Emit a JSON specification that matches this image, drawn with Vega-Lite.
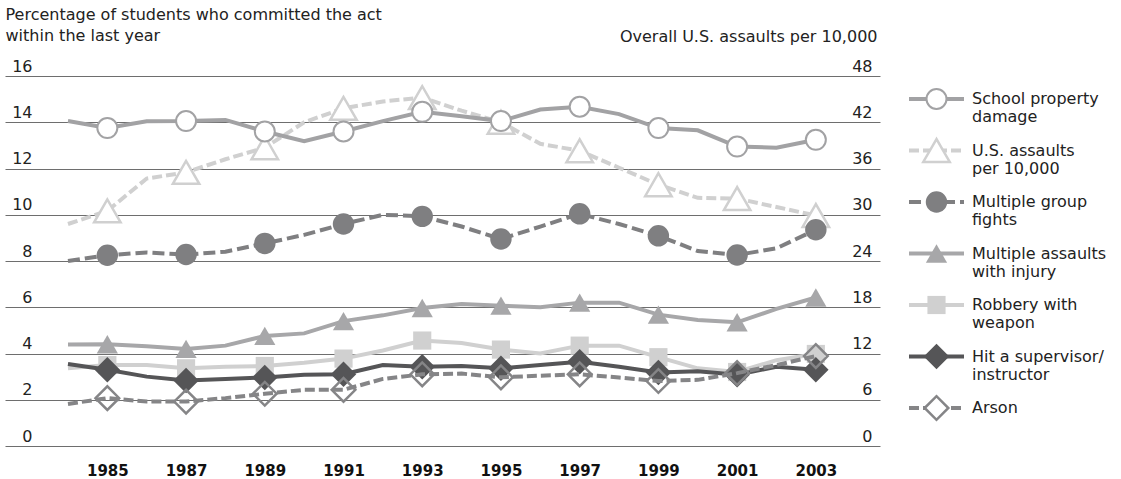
{
"$schema": "https://vega.github.io/schema/vega-lite/v6.json",
"autosize": {"type": "pad"},
"padding": {"left": 5, "top": 6, "right": 0, "bottom": 0},
"spacing": 0,
"bounds": "flush",
"config": {"view": {"stroke": null}, "font": "DejaVu Sans", "point": {"opacity": 1}},
"datasets": {
"rates": [
{"series":"School property damage","year":1984,"value":14.05},{"series":"School property damage","year":1985,"value":13.75},{"series":"School property damage","year":1986,"value":14.04},{"series":"School property damage","year":1987,"value":14.05},{"series":"School property damage","year":1988,"value":14.1},{"series":"School property damage","year":1989,"value":13.6},{"series":"School property damage","year":1990,"value":13.18},{"series":"School property damage","year":1991,"value":13.6},{"series":"School property damage","year":1992,"value":14.05},{"series":"School property damage","year":1993,"value":14.45},{"series":"School property damage","year":1994,"value":14.26},{"series":"School property damage","year":1995,"value":14.05},{"series":"School property damage","year":1996,"value":14.55},{"series":"School property damage","year":1997,"value":14.67},{"series":"School property damage","year":1998,"value":14.35},{"series":"School property damage","year":1999,"value":13.75},{"series":"School property damage","year":2000,"value":13.65},{"series":"School property damage","year":2001,"value":12.95},{"series":"School property damage","year":2002,"value":12.9},{"series":"School property damage","year":2003,"value":13.24},
{"series":"U.S. assaults per 10,000","year":1984,"value":28.8},{"series":"U.S. assaults per 10,000","year":1985,"value":30.5},{"series":"U.S. assaults per 10,000","year":1986,"value":34.7},{"series":"U.S. assaults per 10,000","year":1987,"value":35.5},{"series":"U.S. assaults per 10,000","year":1988,"value":37.2},{"series":"U.S. assaults per 10,000","year":1989,"value":38.7},{"series":"U.S. assaults per 10,000","year":1990,"value":42.0},{"series":"U.S. assaults per 10,000","year":1991,"value":43.8},{"series":"U.S. assaults per 10,000","year":1992,"value":44.7},{"series":"U.S. assaults per 10,000","year":1993,"value":45.2},{"series":"U.S. assaults per 10,000","year":1994,"value":43.5},{"series":"U.S. assaults per 10,000","year":1995,"value":42.0},{"series":"U.S. assaults per 10,000","year":1996,"value":39.2},{"series":"U.S. assaults per 10,000","year":1997,"value":38.3},{"series":"U.S. assaults per 10,000","year":1998,"value":36.1},{"series":"U.S. assaults per 10,000","year":1999,"value":33.9},{"series":"U.S. assaults per 10,000","year":2000,"value":32.2},{"series":"U.S. assaults per 10,000","year":2001,"value":32.1},{"series":"U.S. assaults per 10,000","year":2002,"value":31.0},{"series":"U.S. assaults per 10,000","year":2003,"value":29.9},
{"series":"Multiple group fights","year":1984,"value":8.0},{"series":"Multiple group fights","year":1985,"value":8.25},{"series":"Multiple group fights","year":1986,"value":8.37},{"series":"Multiple group fights","year":1987,"value":8.28},{"series":"Multiple group fights","year":1988,"value":8.4},{"series":"Multiple group fights","year":1989,"value":8.76},{"series":"Multiple group fights","year":1990,"value":9.13},{"series":"Multiple group fights","year":1991,"value":9.6},{"series":"Multiple group fights","year":1992,"value":10.0},{"series":"Multiple group fights","year":1993,"value":9.93},{"series":"Multiple group fights","year":1994,"value":9.49},{"series":"Multiple group fights","year":1995,"value":8.95},{"series":"Multiple group fights","year":1996,"value":9.49},{"series":"Multiple group fights","year":1997,"value":10.04},{"series":"Multiple group fights","year":1998,"value":9.6},{"series":"Multiple group fights","year":1999,"value":9.09},{"series":"Multiple group fights","year":2000,"value":8.43},{"series":"Multiple group fights","year":2001,"value":8.26},{"series":"Multiple group fights","year":2002,"value":8.55},{"series":"Multiple group fights","year":2003,"value":9.35},
{"series":"Multiple assaults with injury","year":1984,"value":4.39},{"series":"Multiple assaults with injury","year":1985,"value":4.4},{"series":"Multiple assaults with injury","year":1986,"value":4.31},{"series":"Multiple assaults with injury","year":1987,"value":4.2},{"series":"Multiple assaults with injury","year":1988,"value":4.34},{"series":"Multiple assaults with injury","year":1989,"value":4.76},{"series":"Multiple assaults with injury","year":1990,"value":4.87},{"series":"Multiple assaults with injury","year":1991,"value":5.4},{"series":"Multiple assaults with injury","year":1992,"value":5.65},{"series":"Multiple assaults with injury","year":1993,"value":5.97},{"series":"Multiple assaults with injury","year":1994,"value":6.14},{"series":"Multiple assaults with injury","year":1995,"value":6.07},{"series":"Multiple assaults with injury","year":1996,"value":6.0},{"series":"Multiple assaults with injury","year":1997,"value":6.2},{"series":"Multiple assaults with injury","year":1998,"value":6.2},{"series":"Multiple assaults with injury","year":1999,"value":5.68},{"series":"Multiple assaults with injury","year":2000,"value":5.45},{"series":"Multiple assaults with injury","year":2001,"value":5.35},{"series":"Multiple assaults with injury","year":2002,"value":5.93},{"series":"Multiple assaults with injury","year":2003,"value":6.42},
{"series":"Robbery with weapon","year":1984,"value":3.36},{"series":"Robbery with weapon","year":1985,"value":3.5},{"series":"Robbery with weapon","year":1986,"value":3.5},{"series":"Robbery with weapon","year":1987,"value":3.36},{"series":"Robbery with weapon","year":1988,"value":3.43},{"series":"Robbery with weapon","year":1989,"value":3.46},{"series":"Robbery with weapon","year":1990,"value":3.6},{"series":"Robbery with weapon","year":1991,"value":3.78},{"series":"Robbery with weapon","year":1992,"value":4.13},{"series":"Robbery with weapon","year":1993,"value":4.56},{"series":"Robbery with weapon","year":1994,"value":4.45},{"series":"Robbery with weapon","year":1995,"value":4.17},{"series":"Robbery with weapon","year":1996,"value":4.0},{"series":"Robbery with weapon","year":1997,"value":4.34},{"series":"Robbery with weapon","year":1998,"value":4.34},{"series":"Robbery with weapon","year":1999,"value":3.84},{"series":"Robbery with weapon","year":2000,"value":3.36},{"series":"Robbery with weapon","year":2001,"value":3.2},{"series":"Robbery with weapon","year":2002,"value":3.71},{"series":"Robbery with weapon","year":2003,"value":3.98},
{"series":"Hit a supervisor/instructor","year":1984,"value":3.55},{"series":"Hit a supervisor/instructor","year":1985,"value":3.3},{"series":"Hit a supervisor/instructor","year":1986,"value":3.0},{"series":"Hit a supervisor/instructor","year":1987,"value":2.83},{"series":"Hit a supervisor/instructor","year":1988,"value":2.9},{"series":"Hit a supervisor/instructor","year":1989,"value":2.96},{"series":"Hit a supervisor/instructor","year":1990,"value":3.08},{"series":"Hit a supervisor/instructor","year":1991,"value":3.1},{"series":"Hit a supervisor/instructor","year":1992,"value":3.5},{"series":"Hit a supervisor/instructor","year":1993,"value":3.43},{"series":"Hit a supervisor/instructor","year":1994,"value":3.46},{"series":"Hit a supervisor/instructor","year":1995,"value":3.36},{"series":"Hit a supervisor/instructor","year":1996,"value":3.5},{"series":"Hit a supervisor/instructor","year":1997,"value":3.64},{"series":"Hit a supervisor/instructor","year":1998,"value":3.43},{"series":"Hit a supervisor/instructor","year":1999,"value":3.18},{"series":"Hit a supervisor/instructor","year":2000,"value":3.23},{"series":"Hit a supervisor/instructor","year":2001,"value":3.08},{"series":"Hit a supervisor/instructor","year":2002,"value":3.43},{"series":"Hit a supervisor/instructor","year":2003,"value":3.3},
{"series":"Arson","year":1984,"value":1.82},{"series":"Arson","year":1985,"value":2.07},{"series":"Arson","year":1986,"value":1.92},{"series":"Arson","year":1987,"value":1.92},{"series":"Arson","year":1988,"value":2.07},{"series":"Arson","year":1989,"value":2.26},{"series":"Arson","year":1990,"value":2.43},{"series":"Arson","year":1991,"value":2.43},{"series":"Arson","year":1992,"value":2.9},{"series":"Arson","year":1993,"value":3.1},{"series":"Arson","year":1994,"value":3.13},{"series":"Arson","year":1995,"value":2.97},{"series":"Arson","year":1996,"value":3.04},{"series":"Arson","year":1997,"value":3.1},{"series":"Arson","year":1998,"value":2.96},{"series":"Arson","year":1999,"value":2.81},{"series":"Arson","year":2000,"value":2.86},{"series":"Arson","year":2001,"value":3.15},{"series":"Arson","year":2002,"value":3.5},{"series":"Arson","year":2003,"value":3.89}
],
"legend": [
{"series":"School property damage","label":"School property\ndamage"},
{"series":"U.S. assaults per 10,000","label":"U.S. assaults\nper 10,000"},
{"series":"Multiple group fights","label":"Multiple group\nfights"},
{"series":"Multiple assaults with injury","label":"Multiple assaults\nwith injury"},
{"series":"Robbery with weapon","label":"Robbery with\nweapon"},
{"series":"Hit a supervisor/instructor","label":"Hit a supervisor/\ninstructor"},
{"series":"Arson","label":"Arson"}
]
},
"hconcat": [
{
"width": 875, "height": 370,
"data": {"name": "rates"},
"encoding": {"x": {"field": "year", "type": "quantitative", "scale": {"domain": [1982.4, 2004.63], "nice": false, "zero": false},
  "axis": {"values": [1985,1987,1989,1991,1993,1995,1997,1999,2001,2003], "format": "d", "title": null, "domain": false, "ticks": false, "grid": false, "labelFont": "DejaVu Sans", "labelFontWeight": "bold", "labelFontSize": 15, "labelPadding": 17, "labelColor": "#111", "labelFlush": false, "labelOverlap": false}}},
"layer": [
{
"encoding": {"y": {"field": "value", "type": "quantitative", "scale": {"domain": [0, 48], "nice": false},
  "axis": {"orient": "right", "values": [0,6,12,18,24,30,36,42,48], "grid": false, "domain": false, "ticks": false, "labelAlign": "right", "labelBaseline": "alphabetic", "labelPadding": -8, "labelOffset": -5, "labelFontSize": 16, "labelColor": "#222", "labelFlush": false, "labelOverlap": false,
  "title": "Overall U.S. assaults per 10,000", "titleAngle": 0, "titleAlign": "right", "titleBaseline": "alphabetic", "titleX": -3, "titleY": -35, "titleFontSize": 16, "titleFontWeight": "normal", "titleColor": "#222"}}},
"layer": [
 {"transform": [{"filter": "datum.series == 'U.S. assaults per 10,000'"}], "mark": {"type": "line", "stroke": "#d0d0d0", "strokeWidth": 4, "strokeDash": [10, 4]}},
 {"transform": [{"filter": "datum.series == 'U.S. assaults per 10,000' && datum.year % 2 == 1"}], "mark": {"type": "point", "shape": "triangle-up", "size": 700, "filled": true, "fill": "white", "stroke": "#d0d0d0", "strokeWidth": 2.5}}
]
},
{
"encoding": {"y": {"field": "value", "type": "quantitative", "scale": {"domain": [0, 16], "nice": false},
  "axis": {"orient": "left", "values": [0,2,4,6,8,10,12,14,16], "grid": true, "gridColor": "#6e6e6e", "gridWidth": 1, "domain": false, "ticks": false, "labelAlign": "right", "labelBaseline": "alphabetic", "labelPadding": -27, "labelOffset": -5, "labelFontSize": 16, "labelColor": "#222", "labelFlush": false, "labelOverlap": false,
  "title": ["Percentage of students who committed the act", "within the last year"], "titleAngle": 0, "titleAlign": "left", "titleBaseline": "alphabetic", "titleX": 0, "titleY": -56.5, "titleLineHeight": 21, "titleFontSize": 16, "titleFontWeight": "normal", "titleColor": "#222"}}},
"layer": [
 {"transform": [{"filter": "datum.series == 'School property damage'"}], "mark": {"type": "line", "stroke": "#a2a2a4", "strokeWidth": 4}},
 {"transform": [{"filter": "datum.series == 'School property damage' && datum.year % 2 == 1"}], "mark": {"type": "point", "shape": "circle", "size": 400, "filled": true, "fill": "white", "stroke": "#a2a2a4", "strokeWidth": 2}},
 {"transform": [{"filter": "datum.series == 'Multiple group fights'"}], "mark": {"type": "line", "stroke": "#7f7f81", "strokeWidth": 4, "strokeDash": [12, 5]}},
 {"transform": [{"filter": "datum.series == 'Multiple group fights' && datum.year % 2 == 1"}], "mark": {"type": "point", "shape": "circle", "size": 460, "filled": true, "fill": "#7f7f81", "strokeWidth": 0}},
 {"transform": [{"filter": "datum.series == 'Multiple assaults with injury'"}], "mark": {"type": "line", "stroke": "#a7a7a9", "strokeWidth": 4}},
 {"transform": [{"filter": "datum.series == 'Multiple assaults with injury' && datum.year % 2 == 1"}], "mark": {"type": "point", "shape": "triangle-up", "size": 450, "filled": true, "fill": "#a7a7a9", "strokeWidth": 0}},
 {"transform": [{"filter": "datum.series == 'Robbery with weapon'"}], "mark": {"type": "line", "stroke": "#d0d0d0", "strokeWidth": 4}},
 {"transform": [{"filter": "datum.series == 'Robbery with weapon' && datum.year % 2 == 1"}], "mark": {"type": "point", "shape": "square", "size": 330, "filled": true, "fill": "#d0d0d0", "strokeWidth": 0}},
 {"transform": [{"filter": "datum.series == 'Hit a supervisor/instructor'"}], "mark": {"type": "line", "stroke": "#555557", "strokeWidth": 4}},
 {"transform": [{"filter": "datum.series == 'Hit a supervisor/instructor' && datum.year % 2 == 1"}], "mark": {"type": "point", "shape": "diamond", "size": 650, "filled": true, "fill": "#555557", "strokeWidth": 0}},
 {"transform": [{"filter": "datum.series == 'Arson'"}], "mark": {"type": "line", "stroke": "#858587", "strokeWidth": 4, "strokeDash": [10, 4]}},
 {"transform": [{"filter": "datum.series == 'Arson' && datum.year % 2 == 1"}], "mark": {"type": "point", "shape": "diamond", "size": 560, "filled": false, "stroke": "#858587", "strokeWidth": 2.5}}
]
}
],
"resolve": {"scale": {"y": "independent"}}
},
{
"width": 241, "height": 370,
"data": {"name": "legend"},
"encoding": {
 "y": {"field": "series", "type": "nominal", "scale": {"type": "point", "padding": 0, "domain": ["School property damage","U.S. assaults per 10,000","Multiple group fights","Multiple assaults with injury","Robbery with weapon","Hit a supervisor/instructor","Arson"], "range": [23, 332]}, "axis": null}
},
"layer": [
 {"transform": [{"filter": "datum.series == 'School property damage'"}], "mark": {"type": "rule", "stroke": "#a2a2a4", "strokeWidth": 4}, "encoding": {"x": {"datum": 29, "type": "quantitative", "scale": {"domain": [0, 241], "nice": false, "zero": false}, "axis": null}, "x2": {"datum": 84}}},
 {"transform": [{"filter": "datum.series == 'U.S. assaults per 10,000'"}], "mark": {"type": "rule", "stroke": "#d0d0d0", "strokeWidth": 4, "strokeDash": [10, 4]}, "encoding": {"x": {"datum": 29, "type": "quantitative"}, "x2": {"datum": 84}}},
 {"transform": [{"filter": "datum.series == 'Multiple group fights'"}], "mark": {"type": "rule", "stroke": "#7f7f81", "strokeWidth": 4, "strokeDash": [12, 5]}, "encoding": {"x": {"datum": 29, "type": "quantitative"}, "x2": {"datum": 84}}},
 {"transform": [{"filter": "datum.series == 'Multiple assaults with injury'"}], "mark": {"type": "rule", "stroke": "#a7a7a9", "strokeWidth": 4}, "encoding": {"x": {"datum": 29, "type": "quantitative"}, "x2": {"datum": 84}}},
 {"transform": [{"filter": "datum.series == 'Robbery with weapon'"}], "mark": {"type": "rule", "stroke": "#d0d0d0", "strokeWidth": 4}, "encoding": {"x": {"datum": 29, "type": "quantitative"}, "x2": {"datum": 84}}},
 {"transform": [{"filter": "datum.series == 'Hit a supervisor/instructor'"}], "mark": {"type": "rule", "stroke": "#555557", "strokeWidth": 4}, "encoding": {"x": {"datum": 29, "type": "quantitative"}, "x2": {"datum": 84}}},
 {"transform": [{"filter": "datum.series == 'Arson'"}], "mark": {"type": "rule", "stroke": "#858587", "strokeWidth": 4, "strokeDash": [10, 4]}, "encoding": {"x": {"datum": 29, "type": "quantitative"}, "x2": {"datum": 84}}},
 {"transform": [{"filter": "datum.series == 'School property damage'"}], "mark": {"type": "point", "shape": "circle", "size": 400, "filled": true, "fill": "white", "stroke": "#a2a2a4", "strokeWidth": 2}, "encoding": {"x": {"datum": 56.5, "type": "quantitative"}}},
 {"transform": [{"filter": "datum.series == 'U.S. assaults per 10,000'"}], "mark": {"type": "point", "shape": "triangle-up", "size": 700, "filled": true, "fill": "white", "stroke": "#d0d0d0", "strokeWidth": 2.5}, "encoding": {"x": {"datum": 56.5, "type": "quantitative"}}},
 {"transform": [{"filter": "datum.series == 'Multiple group fights'"}], "mark": {"type": "point", "shape": "circle", "size": 460, "filled": true, "fill": "#7f7f81", "strokeWidth": 0}, "encoding": {"x": {"datum": 56.5, "type": "quantitative"}}},
 {"transform": [{"filter": "datum.series == 'Multiple assaults with injury'"}], "mark": {"type": "point", "shape": "triangle-up", "size": 450, "filled": true, "fill": "#a7a7a9", "strokeWidth": 0}, "encoding": {"x": {"datum": 56.5, "type": "quantitative"}}},
 {"transform": [{"filter": "datum.series == 'Robbery with weapon'"}], "mark": {"type": "point", "shape": "square", "size": 330, "filled": true, "fill": "#d0d0d0", "strokeWidth": 0}, "encoding": {"x": {"datum": 56.5, "type": "quantitative"}}},
 {"transform": [{"filter": "datum.series == 'Hit a supervisor/instructor'"}], "mark": {"type": "point", "shape": "diamond", "size": 650, "filled": true, "fill": "#555557", "strokeWidth": 0}, "encoding": {"x": {"datum": 56.5, "type": "quantitative"}}},
 {"transform": [{"filter": "datum.series == 'Arson'"}], "mark": {"type": "point", "shape": "diamond", "size": 560, "filled": true, "fill": "white", "stroke": "#858587", "strokeWidth": 2.5}, "encoding": {"x": {"datum": 56.5, "type": "quantitative"}}},
 {"mark": {"type": "text", "align": "left", "baseline": "middle", "lineBreak": "\n", "fontSize": 16, "lineHeight": 18, "color": "#222"}, "encoding": {"x": {"datum": 92, "type": "quantitative"}, "text": {"field": "label"}}}
]
}
]
}
